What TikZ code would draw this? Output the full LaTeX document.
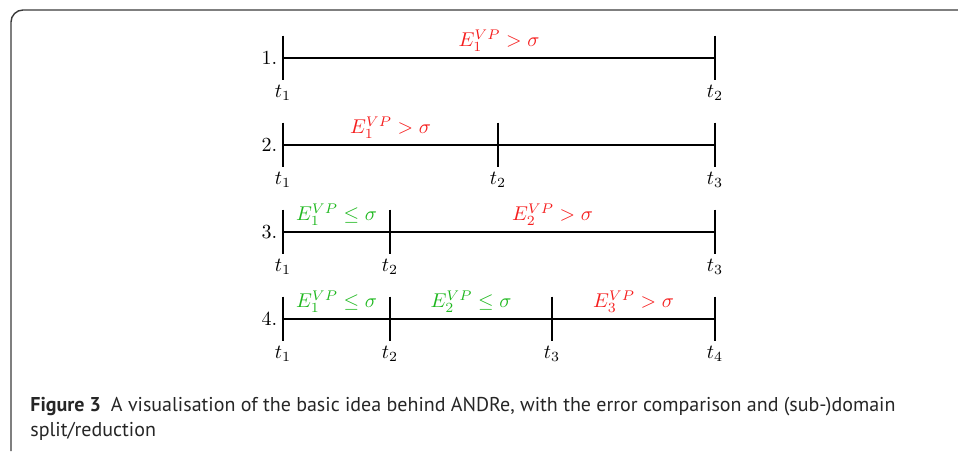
\documentclass[tikz,border=0pt]{standalone}
\usepackage{fontspec}
\newfontfamily\capfont{PT Sans}
\usetikzlibrary{positioning}
\usepackage{xcolor}
\definecolor{badcol}{HTML}{F51E1E}
\definecolor{okcol}{HTML}{1FB81F}
\definecolor{framecol}{HTML}{3A3A3A}

\begin{document}
\begin{tikzpicture}[x=0.5pt, y=-0.5pt,
  tick/.style={minimum width=0pt, minimum height=22pt, inner sep=0pt},
  tl/.style={line width=0.6pt},
  tlbl/.style={inner sep=2pt, font=\normalsize},
  num/.style={inner sep=2.5pt, font=\normalsize},
  bad/.style={above, text=badcol, inner sep=3pt},
  ok/.style={above, text=okcol, inner sep=3pt},
  frame/.style={draw=framecol, line width=0.7pt, rounded corners=6pt}]
  \useasboundingbox (0,0) rectangle (958,451);
  \draw[frame] (11,451) -- (11,10) -- (958,10);
  % 1.
  \node[tick] (p11) at (283,58) {};
  \node[tick] (p12) at (715,58) {};
  \node[num, left=0pt of p11] (n1) {1.};
  \node[tlbl, below=0pt of p11] {$t_1$};
  \node[tlbl, below=0pt of p12] {$t_2$};
  \draw[tl] (p11.north) -- (p11.south);
  \draw[tl] (p12.north) -- (p12.south);
  \draw[tl] (p11) -- node[bad]{$E_1^{VP} > \sigma$} (p12);
  % 2.
  \node[tick] (p21) at (283,145) {};
  \node[tick] (p22) at (498,145) {};
  \node[tick] (p23) at (715,145) {};
  \node[num, left=0pt of p21] (n2) {2.};
  \node[tlbl, below=0pt of p21] {$t_1$};
  \node[tlbl, below=0pt of p22] {$t_2$};
  \node[tlbl, below=0pt of p23] {$t_3$};
  \draw[tl] (p21.north) -- (p21.south);
  \draw[tl] (p22.north) -- (p22.south);
  \draw[tl] (p23.north) -- (p23.south);
  \draw[tl] (p21) -- node[bad]{$E_1^{VP} > \sigma$} (p22) -- (p23);
  % 3.
  \node[tick] (p31) at (283,232) {};
  \node[tick] (p32) at (390,232) {};
  \node[tick] (p33) at (715,232) {};
  \node[num, left=0pt of p31] (n3) {3.};
  \node[tlbl, below=0pt of p31] {$t_1$};
  \node[tlbl, below=0pt of p32] {$t_2$};
  \node[tlbl, below=0pt of p33] {$t_3$};
  \draw[tl] (p31.north) -- (p31.south);
  \draw[tl] (p32.north) -- (p32.south);
  \draw[tl] (p33.north) -- (p33.south);
  \draw[tl] (p31) -- node[ok]{$E_1^{VP} \leq \sigma$} (p32)
                  -- node[bad]{$E_2^{VP} > \sigma$} (p33);
  % 4.
  \node[tick] (p41) at (283,319) {};
  \node[tick] (p42) at (390,319) {};
  \node[tick] (p43) at (552,319) {};
  \node[tick] (p44) at (715,319) {};
  \node[num, left=0pt of p41] (n4) {4.};
  \node[tlbl, below=0pt of p41] {$t_1$};
  \node[tlbl, below=0pt of p42] {$t_2$};
  \node[tlbl, below=0pt of p43] {$t_3$};
  \node[tlbl, below=0pt of p44] {$t_4$};
  \draw[tl] (p41.north) -- (p41.south);
  \draw[tl] (p42.north) -- (p42.south);
  \draw[tl] (p43.north) -- (p43.south);
  \draw[tl] (p44.north) -- (p44.south);
  \draw[tl] (p41) -- node[ok]{$E_1^{VP} \leq \sigma$} (p42)
                  -- node[ok]{$E_2^{VP} \leq \sigma$} (p43)
                  -- node[bad]{$E_3^{VP} > \sigma$} (p44);
  % caption
  \node[anchor=north west, inner sep=0pt, align=left,
        font=\capfont\fontsize{10}{12.5}\selectfont, text=black!85] (cap) at (30,397)
    {\textbf{Figure 3}\hspace{0.5em}A visualisation of the basic idea behind ANDRe, with the error comparison and (sub-)domain\\
     split/reduction};
\end{tikzpicture}
\end{document}
